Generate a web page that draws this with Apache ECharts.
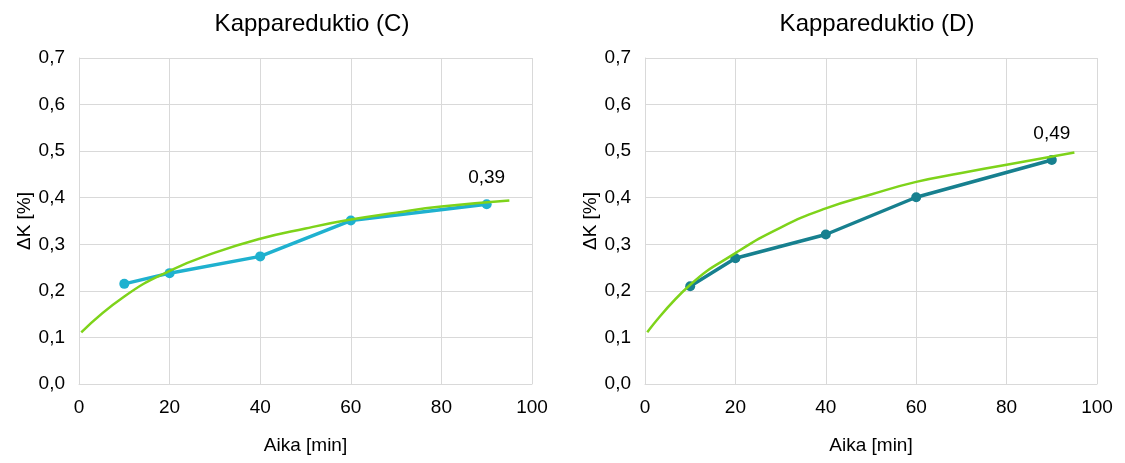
<!DOCTYPE html>
<html>
<head>
<meta charset="utf-8">
<script src="https://cdn.jsdelivr.net/npm/echarts@6/dist/echarts.min.js"></script>
<style>
  html, body { margin: 0; padding: 0; background: #fff; }
  #chart { width: 1125px; height: 463px; }
</style>
</head>
<body>
<div id="chart"></div>
<script>
// measurement times [min]
const timesMin = [10, 20, 40, 60, 90];
const kappaC = [0.215, 0.238, 0.274, 0.351, 0.386];
const kappaD = [0.210, 0.270, 0.321, 0.401, 0.481];

// trend curves
const trendX = [0.5, 10, 20, 30, 40, 50, 60, 70, 80, 95];
const trendC = [0.111, 0.188, 0.243, 0.282, 0.312, 0.334, 0.353, 0.368, 0.381, 0.394];
const trendD = [0.111, 0.213, 0.281, 0.336, 0.377, 0.407, 0.434, 0.453, 0.471, 0.497];

const titles = ['Kappareduktio (C)', 'Kappareduktio (D)'];
const endLabels = ['0,39', '0,49'];

const FONT = '"Liberation Sans", Arial, sans-serif';
const comma = v => v.toFixed(1).replace('.', ',');
const pairs = (xs, ys) => xs.map((x, i) => [x, ys[i]]);

const chart = echarts.init(document.getElementById('chart'));

const grids = [
    { left: 79, right: 593, top: 58, bottom: 79 },
    { left: 645, right: 28, top: 58, bottom: 79 },
];

const makeX = idx => ({
    gridIndex: idx,
    type: 'value',
    min: 0,
    max: 100,
    interval: 20,
    name: 'Aika [min]',
    nameLocation: 'middle',
    nameGap: 52,
    nameTextStyle: { fontFamily: FONT, fontSize: 19, color: '#000' },
    axisLine: { show: true, lineStyle: { color: '#d9d9d9', width: 1 } },
    axisTick: { show: false },
    axisLabel: { fontFamily: FONT, fontSize: 19, color: '#000', margin: 14 },
    splitLine: { show: true, lineStyle: { color: '#d9d9d9', width: 1 } },
});

const makeY = idx => ({
    gridIndex: idx,
    type: 'value',
    min: 0,
    max: 0.7,
    interval: 0.1,
    name: 'ΔK [%]',
    nameLocation: 'middle',
    nameGap: 43,
    nameRotate: 90,
    nameTextStyle: { fontFamily: FONT, fontSize: 19, color: '#000' },
    axisLine: { show: true, lineStyle: { color: '#d9d9d9', width: 1 } },
    axisTick: { show: false },
    axisLabel: { fontFamily: FONT, fontSize: 19, color: '#000', margin: 14, formatter: comma },
    splitLine: { show: true, lineStyle: { color: '#d9d9d9', width: 1 } },
});

const measured = (idx, values, color, endLabel) => {
    const data = pairs(timesMin, values);
    const last = data.length - 1;
    data[last] = {
        value: data[last],
        label: {
            show: true,
            position: 'top',
            distance: 12,
            formatter: endLabel,
            fontFamily: FONT,
            fontSize: 19,
            color: '#000',
        },
    };
    return {
        type: 'line',
        xAxisIndex: idx,
        yAxisIndex: idx,
        data,
        symbol: 'circle',
        symbolSize: 10,
        itemStyle: { color },
        lineStyle: { color, width: 3.5 },
        z: 2,
    };
};

const trend = (idx, values) => ({
    type: 'line',
    xAxisIndex: idx,
    yAxisIndex: idx,
    data: pairs(trendX, values),
    smooth: true,
    showSymbol: false,
    lineStyle: { color: '#7ed31a', width: 2.5 },
    z: 3,
});

chart.setOption({
    animation: false,
    backgroundColor: '#fff',
    title: titles.map((t, i) => ({
        text: t,
        left: i === 0 ? 307 : 872,
        top: 7,
        textAlign: 'center',
        textStyle: { fontFamily: FONT, fontSize: 24, fontWeight: 'normal', color: '#000' },
    })),
    grid: grids,
    xAxis: [makeX(0), makeX(1)],
    yAxis: [makeY(0), makeY(1)],
    series: [
        measured(0, kappaC, '#1fb1cf', endLabels[0]),
        trend(0, trendC),
        measured(1, kappaD, '#17808f', endLabels[1]),
        trend(1, trendD),
    ],
});
</script>
</body>
</html>
